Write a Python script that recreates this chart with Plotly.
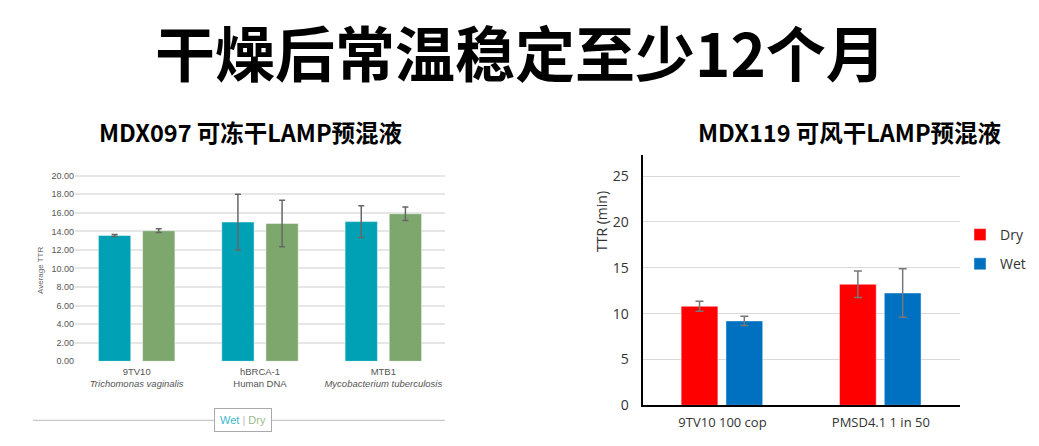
import plotly.graph_objects as go

W, H = 1039, 446
OFF = 8  # page body margin offset

# ---- data: left chart (MDX097) ----
left_cats = ["9TV10", "hBRCA-1", "MTB1"]
left_sub = ["<i>Trichomonas vaginalis</i>", "Human DNA", "<i>Mycobacterium tuberculosis</i>"]
left_wet = [13.55, 15.0, 15.05]
left_wet_err = [0.1, 3.0, 1.7]
left_dry = [14.07, 14.85, 15.9]
left_dry_err = [0.2, 2.5, 0.72]
left_yticks = [0, 2, 4, 6, 8, 10, 12, 14, 16, 18, 20]

# ---- data: right chart (MDX119) ----
right_cats = ["9TV10 100 cop", "PMSD4.1 1 in 50"]
right_dry = [10.8, 13.2]
right_dry_err = [0.55, 1.45]
right_wet = [9.2, 12.25]
right_wet_err = [0.5, 2.65]
right_yticks = [0, 5, 10, 15, 20, 25]

TEAL = "#00A1B4"
GREEN = "#7EA76E"
RED = "#FF0000"
BLUE = "#0070C0"
EDGE = dict(color="rgba(255,255,255,0.45)", width=1)

fig = go.Figure()

# left chart traces
fig.add_trace(go.Bar(x=left_cats, y=left_wet, name="Wet", marker=dict(color=TEAL, line=EDGE),
                     width=0.262, offset=-0.31,
                     error_y=dict(type="data", array=left_wet_err, color="#666666", thickness=1.5, width=3),
                     xaxis="x", yaxis="y", showlegend=False))
fig.add_trace(go.Bar(x=left_cats, y=left_dry, name="Dry", marker=dict(color=GREEN, line=EDGE),
                     width=0.262, offset=0.048,
                     error_y=dict(type="data", array=left_dry_err, color="#666666", thickness=1.5, width=3),
                     xaxis="x", yaxis="y", showlegend=False))

# right chart traces
fig.add_trace(go.Bar(x=right_cats, y=right_dry, name="Dry", marker=dict(color=RED, line=EDGE),
                     width=0.232, offset=-0.261,
                     error_y=dict(type="data", array=right_dry_err, color="#777777", thickness=1.5, width=4),
                     xaxis="x2", yaxis="y2", legendgroup="a"))
fig.add_trace(go.Bar(x=right_cats, y=right_wet, name="Wet", marker=dict(color=BLUE, line=EDGE),
                     width=0.232, offset=0.022,
                     error_y=dict(type="data", array=right_wet_err, color="#777777", thickness=1.5, width=4),
                     xaxis="x2", yaxis="y2", legendgroup="b"))

def px_x(p):
    return (p - OFF) / W

def px_y(p):
    return 1 - (p - OFF) / H

fig.update_layout(
    width=W, height=H,
    margin=dict(l=0, r=0, t=0, b=0, autoexpand=False),
    paper_bgcolor="white", plot_bgcolor="white",
    barmode="overlay",
    font=dict(family="Liberation Sans", color="#444444"),
    xaxis=dict(domain=[px_x(75), px_x(445)], anchor="y",
               tickvals=left_cats,
               ticktext=[f"{c}<br>{s}" for c, s in zip(left_cats, left_sub)],
               tickfont=dict(size=9.5, color="#555555"),
               ticklabelstandoff=3,
               showline=False, showgrid=False, ticks="", automargin=False),
    yaxis=dict(domain=[px_y(361.3), px_y(172.9)], anchor="x",
               range=[0, 20.3], tickvals=left_yticks,
               ticktext=[f"{v:.2f}" for v in left_yticks],
               tickfont=dict(size=9, color="#555555"),
               showgrid=True, gridcolor="#E6E6E6", gridwidth=1.5,
               zeroline=False, showline=False, automargin=False),
    xaxis2=dict(domain=[px_x(643.3), px_x(960)], anchor="y2",
                tickfont=dict(size=13, color="#333333", family="Open Sans"),
                ticklabelstandoff=4,
                showline=True, linecolor="#000000", linewidth=1.5,
                showgrid=False, ticks="", automargin=False),
    yaxis2=dict(domain=[px_y(405.3), px_y(155)], anchor="x2",
                range=[0, 27.3], tickvals=right_yticks,
                tickfont=dict(size=14, color="#333333", family="Open Sans"),
                ticklabelstandoff=10,
                showgrid=True, gridcolor="#D9D9D9", gridwidth=1,
                zeroline=False, automargin=False,
                showline=True, linecolor="#000000", linewidth=1.5),
    legend=dict(x=px_x(960), y=px_y(219), xanchor="left", yanchor="top",
                font=dict(size=14, color="#333333", family="Open Sans"),
                tracegroupgap=8, itemwidth=30, bgcolor="rgba(0,0,0,0)"),
)

C = dict(xref="paper", yref="paper", showarrow=False, xanchor="center", yanchor="middle")

# Titles
fig.add_annotation(text="<b>干燥后常温稳定至少12个月</b>", x=px_x(520), y=px_y(50), **C,
                   font=dict(family="Noto Sans CJK SC", size=60, color="#000000", weight=900))
fig.add_annotation(text="<b>MDX097 可冻干LAMP预混液</b>", x=px_x(251), y=px_y(132), **C,
                   font=dict(family="Noto Sans CJK SC", size=23.5, color="#000000"))
fig.add_annotation(text="<b>MDX119 可风干LAMP预混液</b>", x=px_x(850), y=px_y(132), **C,
                   font=dict(family="Noto Sans CJK SC", size=23.5, color="#000000"))

# Axis titles
fig.add_annotation(text="Average TTR", x=px_x(40), y=px_y(270), textangle=-90, **C,
                   font=dict(size=8, color="#666666", family="Liberation Sans"))
fig.add_annotation(text="TTR (min)", x=px_x(601), y=px_y(222), textangle=-90, **C,
                   font=dict(size=14, color="#333333", family="Open Sans"))

# Left custom legend: line + boxed label
fig.add_shape(type="line", xref="paper", yref="paper",
              x0=px_x(33), x1=px_x(445), y0=px_y(420.3), y1=px_y(420.3),
              line=dict(color="#BBBBBB", width=1))
fig.add_annotation(text="<span style='color:#3DB8CB'>Wet</span> <span style='color:#BBBBBB'>|</span> <span style='color:#9DB98E'>Dry</span>",
                   x=px_x(242.5), y=px_y(420.3), **C,
                   bgcolor="white", bordercolor="#AAAAAA", borderwidth=1,
                   borderpad=5, font=dict(size=11, family="Liberation Sans"))

fig.write_html("out.html")
